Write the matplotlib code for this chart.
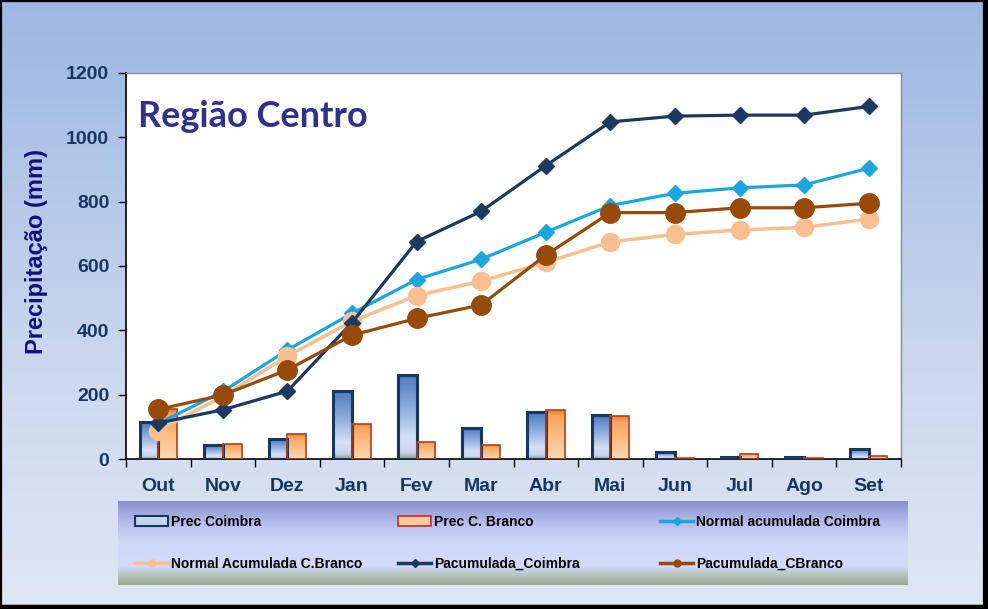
import numpy as np
import matplotlib
matplotlib.use("Agg")
import matplotlib.pyplot as plt
from matplotlib.colors import LinearSegmentedColormap
from matplotlib.patches import Rectangle, Patch
from matplotlib.lines import Line2D
from matplotlib.legend import Legend

months = ['Out', 'Nov', 'Dez', 'Jan', 'Fev', 'Mar', 'Abr', 'Mai', 'Jun', 'Jul', 'Ago', 'Set']
prec_coimbra = [114, 43, 61, 210, 260, 95, 145, 136, 21, 5, 5, 30]
prec_cbranco = [154, 47, 77, 109, 53, 43, 151, 133, 2, 15, 2, 8]
normal_coimbra = [110, 210, 339, 453, 558, 621, 705, 788, 826, 843, 852, 904]
normal_cbranco = [88, 195, 320, 428, 508, 553, 611, 675, 698, 712, 720, 746]
pac_coimbra = [112, 153, 211, 424, 676, 770, 912, 1048, 1066, 1069, 1069, 1096]
pac_cbranco = [154, 199, 277, 385, 437, 479, 634, 766, 766, 781, 781, 795]
yticks = [0, 200, 400, 600, 800, 1000, 1200]

W, H = 988, 609
fig = plt.figure(figsize=(W / 100, H / 100), dpi=100)


def grad(stops, n=256):
    cmap = LinearSegmentedColormap.from_list('g', stops)
    return cmap(np.linspace(0, 1, n))[:, None, :]


# background
bg = fig.add_axes([0, 0, 1, 1], zorder=-10)
bg.imshow(grad([(0, '#dfe7f4'), (0.35, '#cfdaef'), (1, '#9cb7e3')]), extent=[0, 1, 0, 1],
          aspect='auto', origin='lower')
bg.set_xlim(0, 1); bg.set_ylim(0, 1); bg.axis('off')
bg.add_patch(Rectangle((1 / W, 3 / H), 1 - 5 / W, 1 - 4 / H, transform=bg.transAxes,
                       fill=False, edgecolor='black', lw=1.6))
bg.add_patch(Rectangle((1 - 4 / W, 0), 4 / W, 1, transform=bg.transAxes, color='black'))
bg.add_patch(Rectangle((0, 0), 1, 4 / H, transform=bg.transAxes, color='black'))

ax = fig.add_axes([126 / W, 1 - 459 / H, (901 - 126) / W, (459 - 73) / H])
ax.set_facecolor('white')
x = np.arange(len(months))
bw = 0.29

blue_grad = grad([(0, '#8f9f96'), (0.08, '#c9d4ea'), (0.25, '#d6e0f6'), (0.55, '#98b4e2'), (1, '#4a7bbd')])
orange_grad = grad([(0, '#fcd9b4'), (0.5, '#fbbb7e'), (0.88, '#f9a45e'), (1, '#ee7a2c')])

b1 = ax.bar(x - bw / 2, prec_coimbra, bw, facecolor='none', edgecolor='#17375e', lw=2.2, zorder=3)
b2 = ax.bar(x + bw / 2, prec_cbranco, bw, facecolor='none', edgecolor='#b0401e', lw=1.2, zorder=3)
for bars, g in ((b1, blue_grad), (b2, orange_grad)):
    for b in bars:
        x0, y0, ww, hh = b.get_x(), b.get_y(), b.get_width(), b.get_height()
        if hh <= 0:
            continue
        im = ax.imshow(g, extent=[x0, x0 + ww, y0, y0 + hh], aspect='auto', origin='lower', zorder=2)
        im.set_clip_path(b)

c_nc, c_nb, c_pc, c_pb = '#1ca6df', '#f9bf90', '#1b3a60', '#984a0c'
ax.plot(x, normal_coimbra, color=c_nc, lw=2.3, marker='D', ms=8, zorder=4)
ax.plot(x, normal_cbranco, color=c_nb, lw=2.5, marker='o', ms=13, zorder=5)
ax.plot(x, pac_coimbra, color=c_pc, lw=2.3, marker='D', ms=8.5, zorder=6)
ax.plot(x, pac_cbranco, color=c_pb, lw=2.3, marker='o', ms=14, zorder=7)

ax.set_xlim(-0.5, len(months) - 0.5)
ax.set_ylim(0, 1200)
ax.set_yticks(yticks)
ax.set_xticks(x)
ax.set_xticklabels(months)
ax.set_xticks(np.arange(-0.5, len(months)), minor=True)
ax.tick_params(axis='x', which='major', length=0, pad=14)
ax.tick_params(axis='x', which='minor', length=6, width=1, direction='out', color='black')
ax.tick_params(axis='y', length=6, width=1, direction='out', pad=6)
for lab in ax.get_xticklabels() + ax.get_yticklabels():
    lab.set_fontfamily('Liberation Sans')
    lab.set_fontweight('bold')
    lab.set_fontsize(14)
    lab.set_color('#17375e')
for s in ('top', 'right'):
    ax.spines[s].set_color('#8a8a8a')
    ax.spines[s].set_linewidth(1)
for s in ('left', 'bottom'):
    ax.spines[s].set_color('black')
    ax.spines[s].set_linewidth(1.2)

fig.text(37 / W, 1 - 251 / H, 'Precipitação (mm)', rotation=90, ha='center', va='center',
         fontsize=17, fontweight='bold', family='Liberation Sans', color='#10107a')
fig.text(138 / W, 1 - 127 / H, 'Região Centro', ha='left', va='baseline',
         fontsize=26, fontweight='bold', family='Lato', color='#2e3190')

# legend box
lg = fig.add_axes([118 / W, 1 - 585 / H, (907 - 118) / W, (585 - 501) / H], zorder=5)
lg.imshow(grad([(0, '#98a890'), (0.12, '#b8c4c0'), (0.22, '#d2daf8'), (0.5, '#d0d8f8'),
                (0.75, '#b4bcec'), (1, '#8a90cc')]), extent=[0, 1, 0, 1], aspect='auto', origin='lower')
lg.set_xlim(0, 1); lg.set_ylim(0, 1); lg.axis('off')

entries = [
    (Patch(facecolor='#c5d5ee', edgecolor='#17375e', lw=1.5), 'Prec Coimbra', 135, 522),
    (Patch(facecolor='#fbc8a0', edgecolor='#c0301e', lw=1.2), 'Prec C. Branco', 398, 522),
    (Line2D([], [], color=c_nc, lw=2.5, marker='D', ms=4), 'Normal acumulada Coimbra', 660, 522),
    (Line2D([], [], color=c_nb, lw=2.5, marker='o', ms=5), 'Normal Acumulada C.Branco', 135, 564),
    (Line2D([], [], color=c_pc, lw=2.5, marker='D', ms=4), 'Pacumulada_Coimbra', 398, 564),
    (Line2D([], [], color=c_pb, lw=2.5, marker='o', ms=5), 'Pacumulada_CBranco', 660, 564),
]
lx0, ly0, lw_, lh_ = 118, 501, 907 - 118, 585 - 501
for h, lab, px, py in entries:
    leg = Legend(lg, [h], [lab], loc='center left',
                 bbox_to_anchor=((px - lx0) / lw_, 1 - (py - ly0) / lh_),
                 frameon=False, borderpad=0, borderaxespad=0, handlelength=2.4,
                 handletextpad=0.2, prop={'family': 'Liberation Sans', 'weight': 'bold', 'size': 10})
    lg.add_artist(leg)

fig.savefig('out.png', dpi=100)
